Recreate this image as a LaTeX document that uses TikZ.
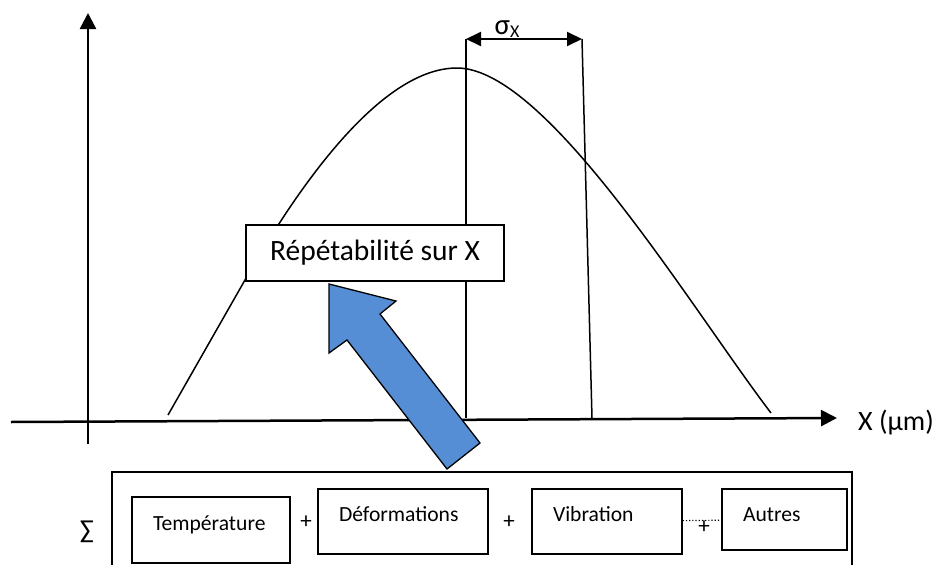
\documentclass[tikz,border=0pt]{standalone}
\usepackage{fontspec}
\setmainfont{Carlito}
\usetikzlibrary{arrows.meta,calc,positioning}

\definecolor{bleufleche}{HTML}{558ED5}
\tikzset{
  axe/.style={line width=2.5pt, -{Triangle[length=16pt,width=16pt]}},
  trait/.style={line width=1.5pt},
  facteur/.style={draw, line width=1.3pt, inner xsep=21pt, inner ysep=0pt, align=left, font=\fontsize{21.6}{21.6}\selectfont},
  signe/.style={font=\fontsize{23}{23}\selectfont, inner sep=0pt},
}

\begin{document}
\begin{tikzpicture}[x=1pt, y=-1pt]
    \useasboundingbox (0,0) rectangle (938,565);

    % axes
    \coordinate (o) at (88,444);
    \coordinate (ytop) at (88,13);
    \coordinate (xleft) at (11,422);
    \coordinate (xright) at (837,418);
    \draw[axe] (o) -- (ytop);
    \draw[axe] (xleft) -- (xright);
    \node[anchor=west, inner sep=0pt, font=\fontsize{28}{28}\selectfont] (xlabel) at (858,423) {X (µm)};

    % courbe
    \draw[trait] (168,415) -- (245,280) .. controls (291,199) and (377,68) .. (457,68)
        .. controls (547,68) and (691,308) .. (771,413);

    % ecart type
    \coordinate (moy) at (466,39);
    \coordinate (sig) at (582,39);
    \draw[trait] (moy) -- (466,418);
    \draw[trait] (sig) -- (592,418);
    \draw[line width=2pt, {Triangle[length=15pt,width=14pt]}-{Triangle[length=15pt,width=14pt]}] (moy) -- (sig);
    \node[inner sep=0pt, font=\fontsize{29}{29}\selectfont] (sigma) at (507,29) {σ\raisebox{-3pt}{\fontsize{18}{18}\selectfont X}};

    % boite repetabilite
    \node[draw, fill=white, line width=1.3pt, minimum width=258pt, minimum height=56pt, font=\fontsize{29.5}{29.5}\selectfont] (repet) at (375,253) {Répétabilité sur X};

    % somme des facteurs
    \draw[trait] (112,566) -- (112,472) -- (852,472) -- (852,566);
    \node[inner sep=0pt, font=\fontsize{26}{26}\selectfont] (somme) at (87,532) {∑};
    \node[facteur, text width=116pt, text height=33pt, text depth=33pt] (temp) at (211,530) {Température};
    \node[facteur, text width=128pt, text height=32.5pt, text depth=32.5pt] (deform) at (403,521.5) {Déformations};
    \node[facteur, text width=108pt, text height=32.5pt, text depth=32.5pt] (vib) at (607,521.5) {Vibration};
    \node[facteur, text width=83pt, text height=32pt, text depth=29pt] (autres) at (784.5,519.5) {Autres};
    \node[signe] (plus1) at (306,522) {+};
    \node[signe] (plus2) at (509,522) {+};
    \node[signe] (plus3) at (704,527) {+};
    \draw[dotted, line width=1.2pt] (vib) -- (autres);

    % fleche bleue
    \draw[line width=1.3pt, fill=bleufleche] (329,284) -- (396,301) -- (380,314) -- (480,443) -- (447,469) -- (347,340) -- (329,353) -- cycle;
\end{tikzpicture}
\end{document}
